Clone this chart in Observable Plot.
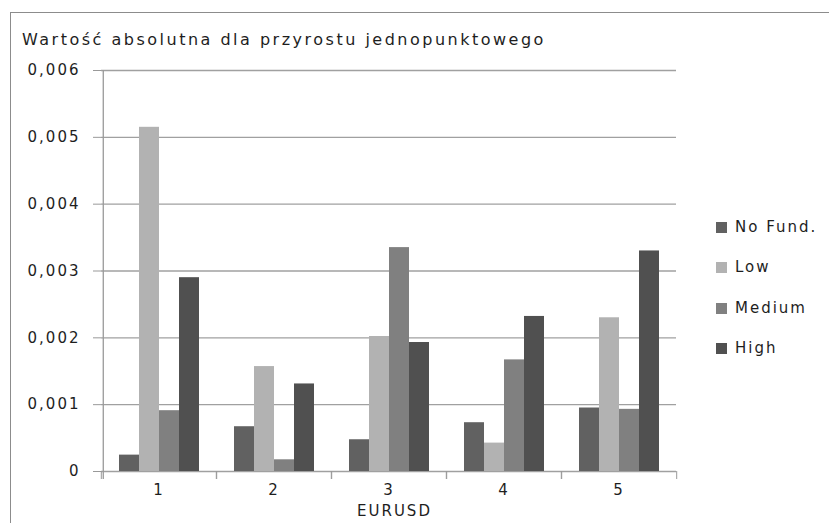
<!DOCTYPE html>
<html><head><meta charset="utf-8">
<script src="https://cdn.jsdelivr.net/npm/d3@7"></script>
<script src="https://cdn.jsdelivr.net/npm/@observablehq/plot@0.6"></script>
<style>
body{margin:0;background:#fff;}
#wrap{position:relative;width:829px;height:523px;overflow:hidden;font-family:"DejaVu Sans";color:#1e1e1e;letter-spacing:2px;background:#fff;}
#border{position:absolute;left:10px;top:12px;width:900px;height:600px;border-left:1.5px solid #8c8c8c;border-top:1.5px solid #8c8c8c;}
#title{position:absolute;left:22px;top:32px;font-size:16px;line-height:16px;letter-spacing:2.5px;white-space:nowrap;}
#xlabel{position:absolute;left:357px;top:504px;font-size:15px;line-height:15px;white-space:nowrap;}
#legend{position:absolute;left:716px;top:0;}
.item{position:absolute;left:0;height:20px;display:flex;align-items:center;font-size:15px;white-space:nowrap;}
.sw{width:11px;height:11px;margin-right:8px;flex:none;}
#chart{position:absolute;left:0;top:0;}
</style>
</head><body>
<div id="wrap">
  <div id="border"></div>
  <div id="chart"></div>
  <div id="title"></div>
  <div id="xlabel"></div>
  <div id="legend"></div>
</div>
<script>
const title = "Wartość absolutna dla przyrostu jednopunktowego";
const xLabel = "EURUSD";
const categories = ["1", "2", "3", "4", "5"];
const series = ["No Fund.", "Low", "Medium", "High"];
const noFund = [0.000245, 0.00067, 0.000475, 0.00073, 0.00095];
const low    = [0.00515, 0.00157, 0.00202, 0.000425, 0.0023];
const medium = [0.00091, 0.000175, 0.00335, 0.00167, 0.00093];
const high   = [0.0029, 0.00131, 0.00193, 0.00232, 0.0033];
const colors = ["#616161", "#b2b2b2", "#808080", "#505050"];
const yTicks = [0, 0.001, 0.002, 0.003, 0.004, 0.005, 0.006];

const values = [noFund, low, medium, high];
const data = [];
categories.forEach((c, i) => series.forEach((s, j) => data.push({cat: c, series: s, value: values[j][i]})));

const W = 700, H = 523, ML = 100, MR = 23, MT = 70, MB = 52;
const facetW = (W - ML - MR) / categories.length;
const step = facetW / (series.length + 1.5);
const fmt = d => d === 0 ? "0" : d.toFixed(3).replace(".", ",");
const axisColor = "#999";

const chart = Plot.plot({
  width: W, height: H,
  marginLeft: ML, marginRight: MR, marginTop: MT, marginBottom: MB,
  style: {fontFamily: "DejaVu Sans", fontSize: "15px", color: "#1e1e1e", letterSpacing: "2px", background: "transparent", overflow: "visible"},
  fx: {domain: categories, padding: 0, label: null, axis: null},
  x: {domain: series, paddingInner: 0, paddingOuter: 0.75, axis: null},
  y: {domain: [0, 0.006], label: null},
  color: {domain: series, range: colors},
  marks: [
    Plot.gridY(yTicks, {stroke: "#a0a0a0", strokeOpacity: 1, strokeWidth: 1.3}),
    Plot.barY(data, {fx: "cat", x: "series", y: "value", fill: "series"}),
    Plot.axisY(yTicks, {tickSize: 8, tickPadding: 13, tickFormat: fmt, stroke: axisColor, label: null}),
    Plot.axisFx({anchor: "bottom", tickSize: 0, tickPadding: 13, label: null}),
    Plot.axisFx({anchor: "bottom", tickSize: 8, tickFormat: () => "", dx: -facetW / 2, label: null, stroke: axisColor}),
    Plot.axisFx(["5"], {anchor: "bottom", tickSize: 8, tickFormat: () => "", dx: facetW / 2, label: null, stroke: axisColor}),
    Plot.ruleX(["1"], {fx: d => d, x: () => series[0], dx: -1.25 * step, insetBottom: -8, stroke: axisColor, strokeWidth: 1.3})
  ]
});
document.getElementById("chart").appendChild(chart);
document.getElementById("title").textContent = title;
document.getElementById("xlabel").textContent = xLabel;

const legendCenters = [227, 267, 308, 348];
const legend = document.getElementById("legend");
series.forEach((s, i) => {
  const it = document.createElement("div");
  it.className = "item";
  it.style.top = (legendCenters[i] - 10) + "px";
  const sw = document.createElement("div");
  sw.className = "sw";
  sw.style.background = colors[i];
  const t = document.createElement("span");
  t.textContent = s;
  it.appendChild(sw); it.appendChild(t);
  legend.appendChild(it);
});
</script>
</body></html>
